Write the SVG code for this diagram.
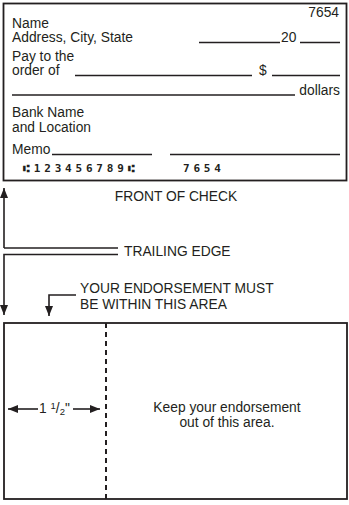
<svg xmlns="http://www.w3.org/2000/svg" width="349" height="505" viewBox="0 0 349 505">
<style>
text{font-family:"Liberation Sans",Arial,sans-serif;font-size:13.8px;fill:#231f20}
.ln{stroke:#231f20;stroke-width:1.6;fill:none}
.box{stroke:#231f20;stroke-width:1.8;fill:#fff}
.micr{font-family:"DejaVu Sans Mono","Liberation Mono",monospace;font-size:11px;font-weight:bold;letter-spacing:3.8px}
.c{text-anchor:middle}
.r{text-anchor:end}
</style>
<defs>
<marker id="ah" viewBox="0 0 10 10" refX="10" refY="5" markerWidth="10" markerHeight="10" markerUnits="userSpaceOnUse" orient="auto">
<path d="M0,1 L10,5 L0,9 Z" fill="#231f20"/>
</marker>
</defs>
<rect width="349" height="505" fill="#fff"/>
<g id="check">
<rect class="box" x="3.5" y="3.5" width="343" height="177"/>
<text class="r" x="339" y="17">7654</text>
<text x="12" y="28">Name</text>
<text x="12" y="42">Address, City, State</text>
<line class="ln" x1="199" y1="42.5" x2="280" y2="42.5"/>
<text x="281" y="42">20</text>
<line class="ln" x1="300" y1="42.5" x2="340" y2="42.5"/>
<text x="12" y="61">Pay to the</text>
<text x="12" y="75">order of</text>
<line class="ln" x1="75" y1="75.5" x2="252" y2="75.5"/>
<text x="259" y="75">$</text>
<line class="ln" x1="272" y1="75.5" x2="340" y2="75.5"/>
<line class="ln" x1="12" y1="95" x2="295" y2="95"/>
<text class="r" x="340" y="95">dollars</text>
<text x="12" y="117">Bank Name</text>
<text x="12" y="131.5">and Location</text>
<text x="12" y="154">Memo</text>
<line class="ln" x1="52" y1="154.5" x2="152" y2="154.5"/>
<line class="ln" x1="170" y1="154.5" x2="340" y2="154.5"/>
<text class="micr" x="23" y="172">⑆123456789⑆</text>
<text class="micr" x="183" y="172">7654</text>
</g>
<g id="front-label">
<text class="c" x="176" y="201">FRONT OF CHECK</text>
</g>
<g id="trailing-label">
<text x="124" y="256">TRAILING EDGE</text>
</g>
<g id="must-label">
<text x="80" y="293">YOUR ENDORSEMENT MUST</text>
<text x="80" y="308.5">BE WITHIN THIS AREA</text>
</g>
<g id="endorse-area">
<rect class="box" x="4" y="323" width="343" height="176"/>
<line x1="106" y1="323" x2="106" y2="499" stroke="#231f20" stroke-width="2" stroke-dasharray="5,4"/>
<text x="39" y="413">1 <tspan font-size="9.5" dy="-4">1</tspan><tspan dy="4">/</tspan><tspan font-size="9.5" dy="2">2</tspan><tspan dy="-2">"</tspan></text>
<text class="c" x="227" y="412">Keep your endorsement</text>
<text class="c" x="227" y="427">out of this area.</text>
</g>
<g id="connectors">
<path class="ln" d="M4,248 L4,188" marker-end="url(#ah)"/>
<path class="ln" d="M4,248 L118,248"/>
<path class="ln" d="M118,254.5 L4,254.5 L4,315" marker-end="url(#ah)"/>
<path class="ln" d="M76,295 L49,295 L49,316" marker-end="url(#ah)"/>
<path class="ln" d="M38,409 L8,409" marker-end="url(#ah)"/>
<path class="ln" d="M73,409 L100,409" marker-end="url(#ah)"/>
</g>
</svg>
